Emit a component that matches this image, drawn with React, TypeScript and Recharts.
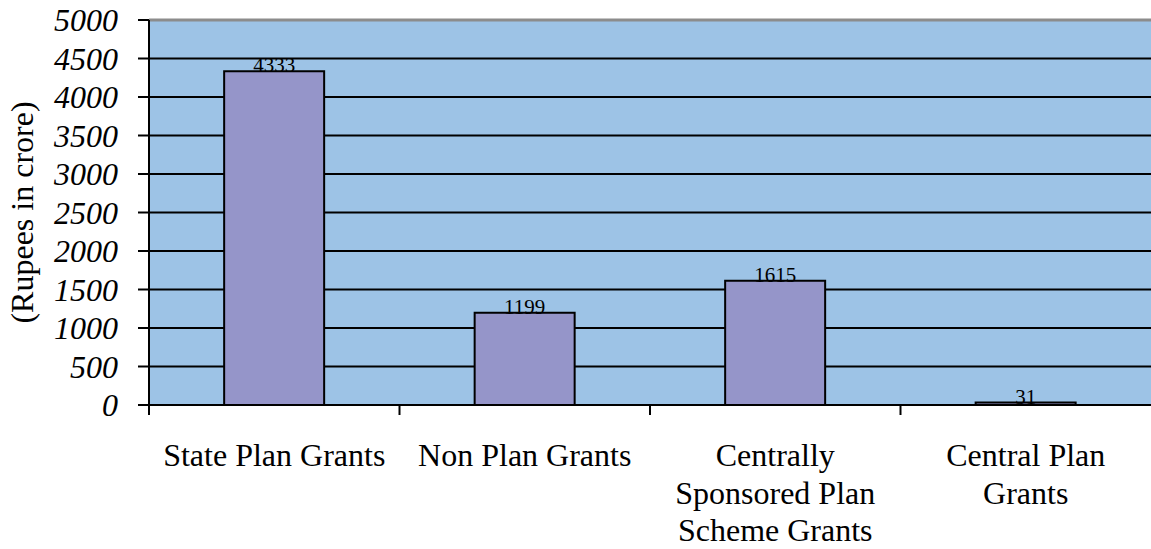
import { BarChart, Bar, XAxis, YAxis, CartesianGrid, ReferenceLine, LabelList } from "recharts"

const categories = [
  "State Plan Grants",
  "Non Plan Grants",
  "Centrally\nSponsored Plan\nScheme Grants",
  "Central Plan\nGrants",
]
const grants = [4333, 1199, 1615, 31]
const yTicks = [0, 500, 1000, 1500, 2000, 2500, 3000, 3500, 4000, 4500, 5000]

const data = categories.map((name, i) => ({ name, value: grants[i] }))

const WIDTH = 1151
const HEIGHT = 549
const AXIS_W = 149
const BAND = (WIDTH - AXIS_W) / categories.length
const FONT = '"Liberation Serif", "Times New Roman", serif'

function CategoryTick({ x, y, payload }: { x?: number; y?: number; payload?: { value: string } }) {
  if (!payload || x == null || y == null) return null
  const lines = payload.value.split("\n")
  const left = x - BAND / 2
  return (
    <g>
      <line x1={left} x2={left} y1={y} y2={y + 10} stroke="#000" strokeWidth={2} />
      <text x={x} y={y + 61} textAnchor="middle" fontSize={32} fontFamily={FONT} fill="#000">
        {lines.map((l, i) => (
          <tspan key={i} x={x} dy={i === 0 ? 0 : 37.5}>
            {l}
          </tspan>
        ))}
      </text>
    </g>
  )
}

export default function App() {
  return (
    <div style={{ width: WIDTH, height: HEIGHT }}>
      <style>{`body{margin:0}`}</style>
      <BarChart
        width={WIDTH}
        height={HEIGHT}
        data={data}
        margin={{ top: 20, right: 0, left: 0, bottom: 0 }}
        barCategoryGap="30%"
      >
        <CartesianGrid vertical={false} stroke="#000" strokeWidth={2} fill="#9DC3E6" fillOpacity={1} />
        <XAxis
          dataKey="name"
          interval={0}
          height={144}
          tickLine={false}
          tickSize={0}
          tickMargin={0}
          axisLine={{ stroke: "#000", strokeWidth: 2 }}
          tick={<CategoryTick />}
        />
        <YAxis
          domain={[0, 5000]}
          ticks={yTicks}
          interval={0}
          width={AXIS_W}
          tickSize={11}
          tickMargin={20}
          axisLine={{ stroke: "#000", strokeWidth: 2 }}
          tickLine={{ stroke: "#000", strokeWidth: 2 }}
          tick={{ fill: "#000", fontSize: 32, fontStyle: "italic", fontFamily: FONT }}
          label={{
            value: "(Rupees in crore)",
            angle: -90,
            position: "insideLeft",
            offset: 22,
            style: { textAnchor: "middle", fontSize: 32, fontFamily: FONT, fill: "#000" },
          }}
        />
        <ReferenceLine y={5000} stroke="#8C8C8C" strokeWidth={3} />
        <Bar dataKey="value" fill="#9595C9" stroke="#000" strokeWidth={2} isAnimationActive={false}>
          <LabelList
            dataKey="value"
            position="top"
            offset={-1}
            style={{ fontSize: 21, fontFamily: FONT, fill: "#000" }}
          />
        </Bar>
      </BarChart>
    </div>
  )
}
